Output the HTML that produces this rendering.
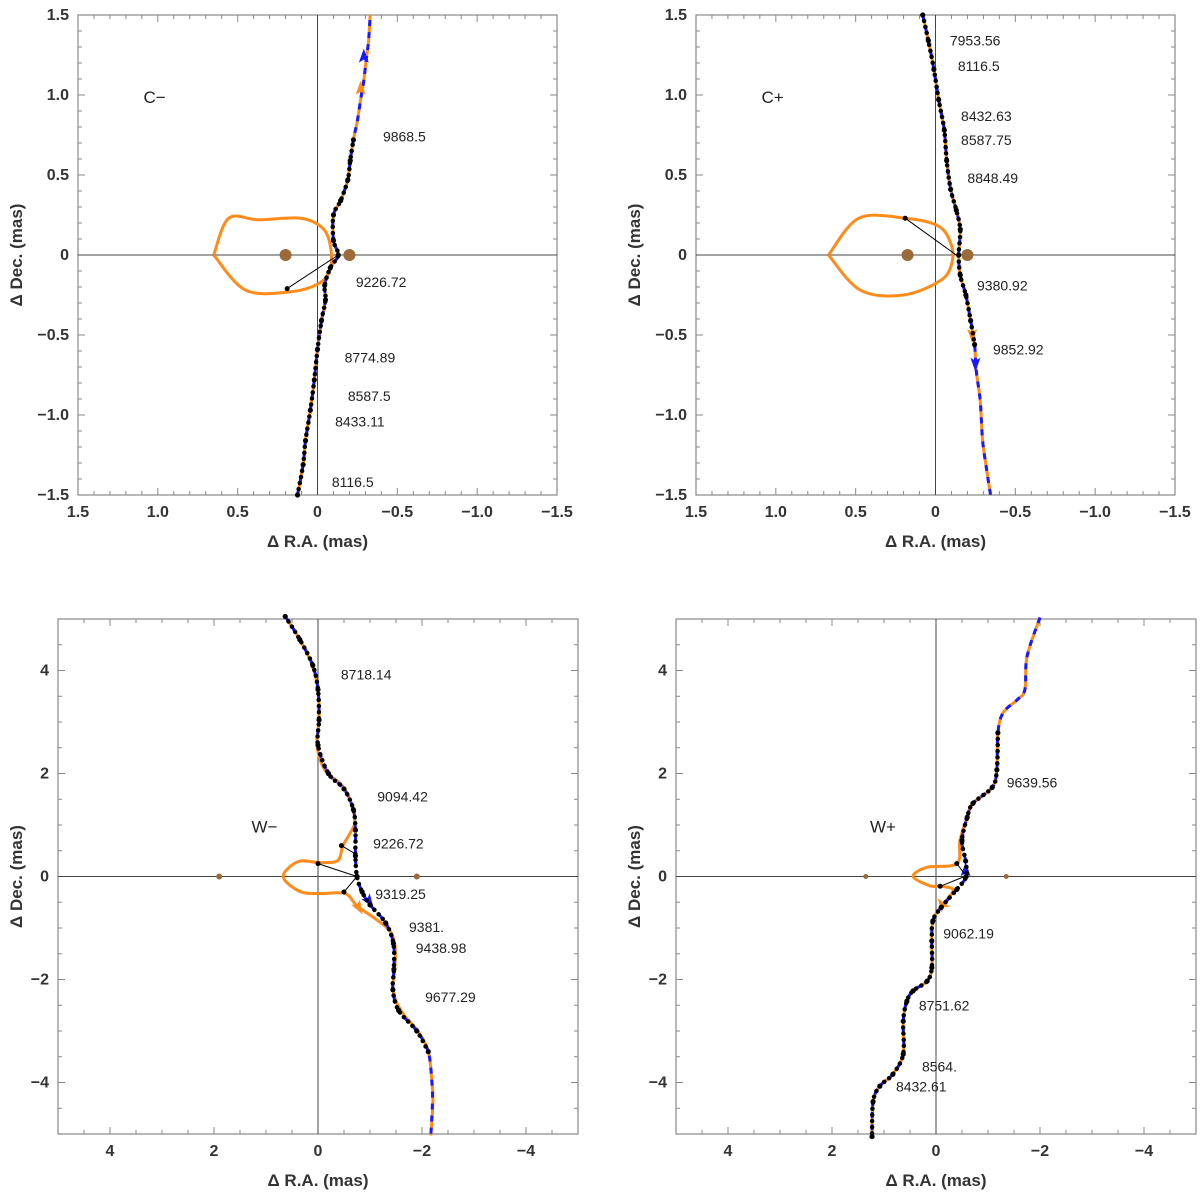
<!DOCTYPE html>
<html><head><meta charset="utf-8"><style>
body{margin:0;background:#fff}
svg{display:block;font-family:"Liberation Sans",Arial,sans-serif}
</style></head><body>
<svg id="chart" width="1200" height="1198" viewBox="0 0 1200 1198" xmlns="http://www.w3.org/2000/svg"></svg>
<script>
// ---------- Panel C- ----------
const cmTrackRA=[0.125,0.09,0.075,0.045,0.02,0,-0.025,-0.05,-0.045,-0.08,-0.13,-0.1,-0.1,-0.145,-0.19,-0.205,-0.225,-0.25,-0.27,-0.29,-0.305,-0.32,-0.33];
const cmTrackDec=[-1.5,-1.31,-1.16,-0.97,-0.78,-0.59,-0.41,-0.28,-0.19,-0.08,0,0.09,0.25,0.34,0.47,0.59,0.72,0.84,0.97,1.09,1.22,1.34,1.5];
const cmCausRA=[0.65,0.556,0.37,0.106,-0.03,-0.08,-0.08,-0.005,0.17,0.45,0.65];
const cmCausDec=[0,0.23,0.22,0.23,0.17,0.06,-0.09,-0.18,-0.23,-0.22,0];
const cmLensRA=[0.2,-0.2], cmLensDec=[0,0];
const cmDotRange=[-1.5,0.8];
const cmLinks=[[0.19,-0.21,-0.13,0]];
const cmArrowRA=[-0.27,-0.29], cmArrowDec=[1.04,1.24], cmArrowDir=[90,90];
const cmLabels=["C\u2212","9868.5","9226.72","8774.89","8587.5","8433.11","8116.5"];
const cmLabelRA=[1.09,-0.41,-0.24,-0.17,-0.19,-0.11,-0.09];
const cmLabelDec=[0.98,0.74,-0.17,-0.64,-0.88,-1.04,-1.42];
// ---------- Panel C+ ----------
const cpTrackRA=[0.08,0.045,0.01,-0.02,-0.055,-0.07,-0.095,-0.13,-0.155,-0.145,-0.155,-0.19,-0.22,-0.245,-0.255,-0.28,-0.295,-0.32,-0.345];
const cpTrackDec=[1.5,1.34,1.16,0.97,0.78,0.59,0.41,0.28,0.16,0,-0.125,-0.25,-0.41,-0.56,-0.72,-0.91,-1.16,-1.34,-1.5];
const cpCausRA=[0.67,0.48,0.19,-0.02,-0.1,-0.1,-0.03,0.2,0.47,0.67];
const cpCausDec=[0,0.23,0.23,0.18,0.06,-0.06,-0.16,-0.25,-0.22,0];
const cpLensRA=[0.175,-0.2], cpLensDec=[0,0];
const cpDotRange=[-0.6,1.5];
const cpLinks=[[0.19,0.23,-0.13,0]];
const cpArrowRA=[-0.23,-0.25], cpArrowDec=[-0.5,-0.68], cpArrowDir=[-90,-90];
const cpLabels=["C+","7953.56","8116.5","8432.63","8587.75","8848.49","9380.92","9852.92"];
const cpLabelRA=[1.09,-0.09,-0.14,-0.16,-0.16,-0.2,-0.26,-0.36];
const cpLabelDec=[0.98,1.34,1.18,0.87,0.72,0.48,-0.19,-0.59];
// ---------- Panel W- ----------
const wmTrackRA=[0.63,0.35,0.115,0,-0.02,0.02,-0.13,-0.46,-0.62,-0.71,-0.65,-0.48,-0.38,-0.04,0.38,0.67,0.35,-0.04,-0.52,-0.75,-1.1,-1.38,-1.48,-1.48,-1.44,-1.5,-1.67,-1.92,-2.12,-2.19,-2.21,-2.17];
const wmTrackDec=[5.05,4.6,4.11,3.63,3.04,2.55,2.07,1.77,1.48,1.09,0.9,0.6,0.31,0.27,0.29,0,-0.29,-0.33,-0.33,-0.57,-0.82,-1.05,-1.35,-1.73,-2.12,-2.42,-2.71,-3.0,-3.39,-3.98,-4.37,-5.03];
const wmBlueRA=[0.63,0.35,0.1,0,-0.02,0,-0.2,-0.5,-0.68,-0.72,-0.72,-0.75,-0.85,-1.0,-1.3,-1.45,-1.46,-1.44,-1.55,-1.9,-2.12,-2.19,-2.2,-2.17];
const wmBlueDec=[5.05,4.6,4.1,3.63,3.04,2.55,2.0,1.7,1.3,0.9,0.4,0,-0.3,-0.55,-0.9,-1.3,-1.8,-2.2,-2.6,-3.0,-3.4,-4.0,-4.4,-5.03];
const wmLensRA=[1.9,-1.9], wmLensDec=[0,0];
const wmDotRange=[-3.5,5.1];
const wmLinks=[[0,0.25,-0.75,0],[-0.5,-0.3,-0.75,0],[-0.45,0.6,-0.7,0.45]];
const wmArrowRA=[-0.78,-0.98], wmArrowDec=[-0.6,-0.48], wmArrowDir=[-60,-55];
const wmLabels=["W\u2212","8718.14","9094.42","9226.72","9319.25","9381.","9438.98","9677.29"];
const wmLabelRA=[1.28,-0.44,-1.14,-1.06,-1.1,-1.75,-1.88,-2.06];
const wmLabelDec=[0.95,3.92,1.55,0.64,-0.34,-0.98,-1.39,-2.34];
// ---------- Panel W+ ----------
const wpTrackRA=[-2.0,-1.75,-1.71,-1.56,-1.29,-1.19,-1.17,-1.08,-0.71,-0.6,-0.46,-0.4,0.17,0.44,0.12,-0.08,-0.33,-0.08,0.06,0.08,0.08,0.17,0.44,0.56,0.63,0.63,0.83,1.08,1.21,1.23];
const wpTrackDec=[5.03,4.27,3.63,3.43,3.18,2.79,2.07,1.73,1.42,1.15,0.7,0.25,0.18,0,-0.18,-0.19,-0.27,-0.6,-0.86,-1.25,-1.77,-2.03,-2.22,-2.42,-2.81,-3.45,-3.84,-4.07,-4.37,-5.05];
const wpBlueRA=[-2.0,-1.75,-1.71,-1.56,-1.29,-1.19,-1.17,-1.08,-0.71,-0.6,-0.5,-0.57,-0.58,-0.4,-0.1,0.06,0.08,0.08,0.17,0.44,0.56,0.63,0.63,0.83,1.08,1.21,1.23];
const wpBlueDec=[5.03,4.27,3.63,3.43,3.18,2.79,2.07,1.73,1.42,1.15,0.7,0.3,0,-0.25,-0.6,-0.86,-1.25,-1.77,-2.03,-2.22,-2.42,-2.81,-3.45,-3.84,-4.07,-4.37,-5.05];
const wpLensRA=[1.35,-1.35], wpLensDec=[0,0];
const wpDotRange=[-5.1,2.9];
const wpLinks=[[-0.08,-0.19,-0.55,0],[-0.4,0.25,-0.55,0.05]];
const wpArrowRA=[-0.12,-0.57], wpArrowDec=[-0.55,0.12], wpArrowDir=[125,90];
const wpLabels=["W+","9639.56","9062.19","8751.62","8564.","8432.61"];
const wpLabelRA=[1.27,-1.36,-0.14,0.33,0.27,0.77];
const wpLabelDec=[0.95,1.83,-1.11,-2.5,-3.69,-4.08];

const NS="http://www.w3.org/2000/svg";
const svg=document.getElementById('chart');
function mk(tag,attrs,parent){const e=document.createElementNS(NS,tag);for(const k in attrs)e.setAttribute(k,attrs[k]);(parent||svg).appendChild(e);return e;}
function fmt(v,dec){if(Math.abs(v)<1e-9)return "0";const s=Math.abs(v).toFixed(dec);return (v<0?"\u2212":"")+s;}
function smooth(P){
  if(P.length<3)return 'M'+P.map(p=>p.join(',')).join(' L');
  let d='M'+P[0][0].toFixed(1)+','+P[0][1].toFixed(1);
  for(let i=0;i<P.length-1;i++){
    const p0=P[Math.max(0,i-1)],p1=P[i],p2=P[i+1],p3=P[Math.min(P.length-1,i+2)];
    const c1=[p1[0]+(p2[0]-p0[0])/6,p1[1]+(p2[1]-p0[1])/6],c2=[p2[0]-(p3[0]-p1[0])/6,p2[1]-(p3[1]-p1[1])/6];
    d+=` C${c1[0].toFixed(1)},${c1[1].toFixed(1)} ${c2[0].toFixed(1)},${c2[1].toFixed(1)} ${p2[0].toFixed(1)},${p2[1].toFixed(1)}`;
  }
  return d;
}

function panel(c){
  const g=mk('g',{});
  
  
  const sx=v=>(c.L+c.R)/2 - v*(c.R-c.L)/(2*c.lim);
  const sy=v=>(c.T+c.B)/2 - v*(c.B-c.T)/(2*c.lim);
  const fr=mk('rect',{x:c.L,y:c.T,width:c.R-c.L,height:c.B-c.T,fill:'none',stroke:'#888','stroke-width':1.2},g);
  
  const n=Math.round(2*c.lim/c.minor);
  for(let i=0;i<=n;i++){
    const v=-c.lim+i*c.minor;const major=Math.abs(v/c.major-Math.round(v/c.major))<1e-6;const len=major?7:4;
    const X=sx(v),Y=sy(v);
    mk('line',{x1:X,y1:c.B,x2:X,y2:c.B-len,stroke:'#888'},g);
    mk('line',{x1:X,y1:c.T,x2:X,y2:c.T+len,stroke:'#888'},g);
    mk('line',{x1:c.L,y1:Y,x2:c.L+len,y2:Y,stroke:'#888'},g);
    mk('line',{x1:c.R,y1:Y,x2:c.R-len,y2:Y,stroke:'#888'},g);
    if(major){
      const s=fmt(v,c.dec);
      const tx=mk('text',{x:X,y:c.B+22,'text-anchor':'middle','font-size':16,'font-weight':'bold',fill:'#333'},g);tx.textContent=s;
      
      const ty=mk('text',{x:c.L-9,y:Y+5,'text-anchor':'end','font-size':16,'font-weight':'bold',fill:'#333'},g);ty.textContent=s;
      
    }
  }
  const xt=mk('text',{x:(c.L+c.R)/2,y:c.B+52,'text-anchor':'middle','font-size':17,'font-weight':'bold',fill:'#333'},g);xt.textContent='\u0394 R.A. (mas)';
  
  const yx=c.ytx,yy=(c.T+c.B)/2;
  const yt=mk('text',{x:yx,y:yy,'text-anchor':'middle','font-size':17,'font-weight':'bold',fill:'#333',transform:`rotate(-90 ${yx} ${yy})`},g);yt.textContent='\u0394 Dec. (mas)';
  
  mk('line',{x1:sx(0),y1:c.T,x2:sx(0),y2:c.B,stroke:'#444','stroke-width':1},g);
  mk('line',{x1:c.L,y1:sy(0),x2:c.R,y2:sy(0),stroke:'#444','stroke-width':1},g);
  const P=(ra,de)=>ra.map((r,i)=>[sx(r),sy(de[i])]);
  if(c.causRA){const cp=mk('path',{d:smooth(P(c.causRA,c.causDec)),fill:'none',stroke:'#ff8c1a','stroke-width':3,'stroke-linejoin':'round'},g);
    }
  c.lensRA.forEach((r,i)=>{const l=mk('circle',{cx:sx(r),cy:sy(c.lensDec[i]),r:c.lensR,fill:'#9b6a3a'},g);
    });
  const ot=mk('path',{d:smooth(P(c.trRA,c.trDec)),fill:'none',stroke:'#ff8c1a','stroke-width':3,'stroke-linejoin':'round'},g);
  
  const bt=mk('path',{d:smooth(P(c.blRA,c.blDec)),fill:'none',stroke:'#1a1aff','stroke-width':3,'stroke-dasharray':'6 6'},g);
  
  c.arRA.forEach((r,i)=>{const X=sx(r),Y=sy(c.arDec[i]);
    const a=mk('polygon',{points:'8,0 -6,-5 -3,0 -6,5',fill:i===0?'#ff8c1a':'#1a1aff',transform:`translate(${X.toFixed(1)},${Y.toFixed(1)}) rotate(${-c.arDir[i]})`},g);
    });
  c.links.forEach(k=>{const ln=mk('line',{x1:sx(k[0]),y1:sy(k[1]),x2:sx(k[2]),y2:sy(k[3]),stroke:'#000','stroke-width':1},g);
    
    mk('circle',{cx:sx(k[0]),cy:sy(k[1]),r:2.5,fill:'#000'},g);});
  const dr=[],dd=[];
  c.blRA.forEach((r,i)=>{if(c.blDec[i]>=c.dot[0]&&c.blDec[i]<=c.dot[1]){dr.push(r);dd.push(c.blDec[i]);}});
  const dl=mk('path',{d:smooth(P(dr,dd)),fill:'none',stroke:'#000','stroke-width':4.5,'stroke-dasharray':'0.1 6','stroke-linecap':'round'},g);
  
  dr.forEach((r,i)=>{const d=mk('circle',{cx:sx(r),cy:sy(dd[i]),r:2.6,fill:'#000'},g);
    });
  c.labels.forEach((t,i)=>{const tx=mk('text',{x:sx(c.lRA[i]),y:sy(c.lDec[i])+5,'font-size':i===0?17:14,fill:'#222'},g);tx.textContent=t;
    });
}
panel({name:'panel-c-minus',L:78,R:557,T:15,B:495,lim:1.5,major:0.5,minor:0.1,dec:1,ytx:22,
  trRA:cmTrackRA,trDec:cmTrackDec,blRA:cmTrackRA,blDec:cmTrackDec,causRA:cmCausRA,causDec:cmCausDec,
  lensRA:cmLensRA,lensDec:cmLensDec,lensR:6,dot:cmDotRange,links:cmLinks,arRA:cmArrowRA,arDec:cmArrowDec,arDir:cmArrowDir,labels:cmLabels,lRA:cmLabelRA,lDec:cmLabelDec});
panel({name:'panel-c-plus',L:696,R:1175,T:15,B:495,lim:1.5,major:0.5,minor:0.1,dec:1,ytx:640,
  trRA:cpTrackRA,trDec:cpTrackDec,blRA:cpTrackRA,blDec:cpTrackDec,causRA:cpCausRA,causDec:cpCausDec,
  lensRA:cpLensRA,lensDec:cpLensDec,lensR:6,dot:cpDotRange,links:cpLinks,arRA:cpArrowRA,arDec:cpArrowDec,arDir:cpArrowDir,labels:cpLabels,lRA:cpLabelRA,lDec:cpLabelDec});
panel({name:'panel-w-minus',L:58,R:578,T:619,B:1134,lim:5,major:2,minor:0.5,dec:0,ytx:22,
  trRA:wmTrackRA,trDec:wmTrackDec,blRA:wmBlueRA,blDec:wmBlueDec,
  lensRA:wmLensRA,lensDec:wmLensDec,lensR:3,dot:wmDotRange,links:wmLinks,arRA:wmArrowRA,arDec:wmArrowDec,arDir:wmArrowDir,labels:wmLabels,lRA:wmLabelRA,lDec:wmLabelDec});
panel({name:'panel-w-plus',L:676,R:1196,T:619,B:1134,lim:5,major:2,minor:0.5,dec:0,ytx:640,
  trRA:wpTrackRA,trDec:wpTrackDec,blRA:wpBlueRA,blDec:wpBlueDec,
  lensRA:wpLensRA,lensDec:wpLensDec,lensR:2.5,dot:wpDotRange,links:wpLinks,arRA:wpArrowRA,arDec:wpArrowDec,arDir:wpArrowDir,labels:wpLabels,lRA:wpLabelRA,lDec:wpLabelDec});
</script>
</body></html>
